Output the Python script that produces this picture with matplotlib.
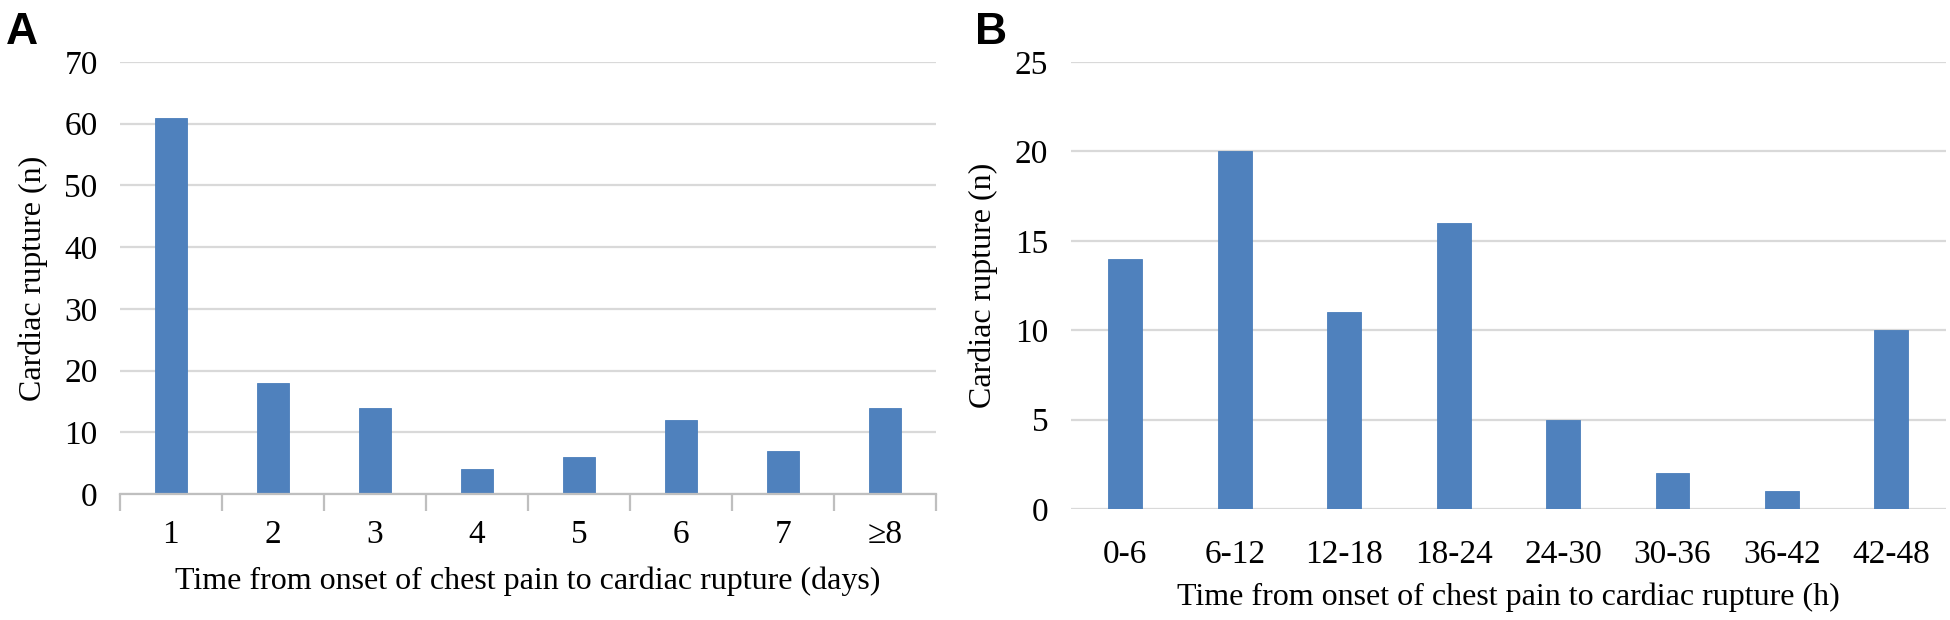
import matplotlib.pyplot as plt

# --- Data ---
days = ["1", "2", "3", "4", "5", "6", "7", "≥8"]
days_counts = [61, 18, 14, 4, 6, 12, 7, 14]

hours = ["0-6", "6-12", "12-18", "18-24", "24-30", "30-36", "36-42", "42-48"]
hours_counts = [14, 20, 11, 16, 5, 2, 1, 10]

bar_color = "#4f81bd"
grid_color = "#d9d9d9"

plt.rcParams["font.family"] = ["Liberation Serif", "DejaVu Serif"]

fig = plt.figure(figsize=(19.5, 6.2), dpi=100)


def style_axes(ax, ymax, step):
    ax.set_ylim(0, ymax)
    ax.set_xlim(-0.5, 7.5)
    ax.set_yticks(range(0, ymax + 1, step))
    ax.yaxis.grid(True, color=grid_color, linewidth=1.6)
    ax.set_axisbelow(True)
    for s in ["top", "right", "left"]:
        ax.spines[s].set_visible(False)
    ax.tick_params(axis="y", length=0, labelsize=24, pad=16)
    ax.tick_params(axis="x", length=0, labelsize=24)


# --- Panel A: days ---
axA = fig.add_axes([0.0615, 0.203, 0.4185, 0.697])
axA.bar(range(len(days)), days_counts, width=0.31, color=bar_color,
        edgecolor="#4a7ebb", linewidth=0.6)
style_axes(axA, 70, 10)
axA.spines["bottom"].set_color("#bfbfbf")
axA.spines["bottom"].set_linewidth(1.6)
axA.set_xticks(range(len(days)))
axA.set_xticklabels(days)
axA.tick_params(axis="x", pad=18)
# category separators below the axis
axA.set_xticks([i - 0.5 for i in range(len(days) + 1)], minor=True)
axA.tick_params(axis="x", which="minor", length=12, width=1.6, color="#bfbfbf")
axA.set_xlabel("Time from onset of chest pain to cardiac rupture (days)",
               fontsize=23, labelpad=12)
axA.set_ylabel("Cardiac rupture (n)", fontsize=23, labelpad=12)
fig.text(0.003, 0.98, "A", fontsize=32, fontweight="bold",
         family="Liberation Sans", va="top")

# --- Panel B: hours ---
axB = fig.add_axes([0.549, 0.179, 0.449, 0.721])
axB.bar(range(len(hours)), hours_counts, width=0.31, color=bar_color,
        edgecolor="#4a7ebb", linewidth=0.6)
style_axes(axB, 25, 5)
axB.spines["bottom"].set_visible(False)
axB.set_xticks(range(len(hours)))
axB.set_xticklabels(hours)
axB.tick_params(axis="x", pad=22)
axB.set_xlabel("Time from onset of chest pain to cardiac rupture (h)",
               fontsize=23, labelpad=9)
axB.set_ylabel("Cardiac rupture (n)", fontsize=23, labelpad=12)
fig.text(0.5, 0.98, "B", fontsize=32, fontweight="bold",
         family="Liberation Sans", va="top")

fig.savefig("out.png", dpi=100)
